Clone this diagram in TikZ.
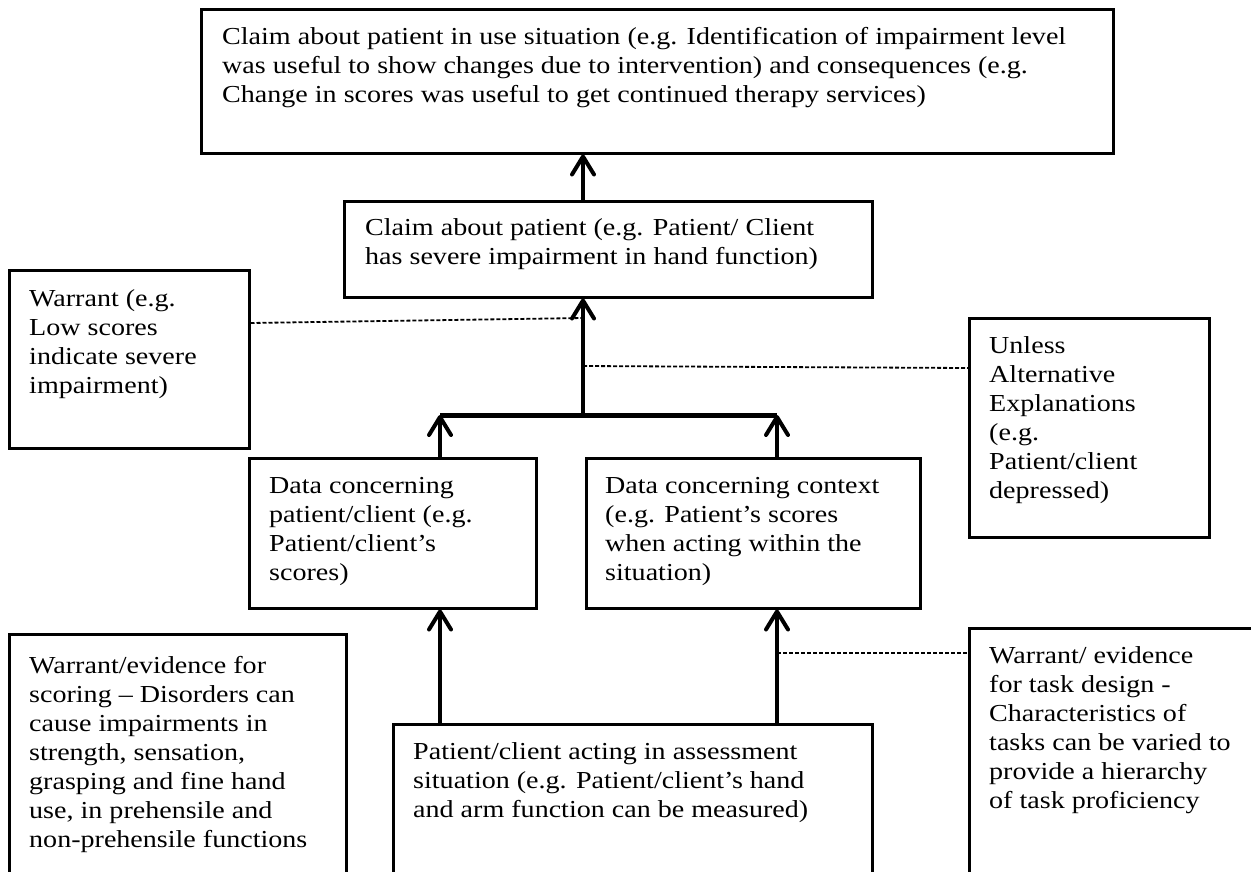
\documentclass[tikz,border=0pt]{standalone}
\usepackage{fontspec}
\setmainfont{Liberation Serif}[FakeStretch=1.15]
\usetikzlibrary{arrows.meta,calc}

% stacked lines whose reference point is the first baseline
\newcommand{\stacklines}[1]{\begin{tabular}[t]{@{}l@{}}#1\end{tabular}}

\tikzset{
  box/.style={draw, line width=2.5pt, inner sep=0pt, anchor=north west},
  txt/.style={anchor=base west, inner sep=0pt,
              font=\fontsize{24.4}{29}\selectfont},
  conn/.style={line width=4pt,
               -{Straight Barb[length=18pt,width=22pt,line cap=round,line join=round]}},
  bar/.style={line width=5pt},
  dashline/.style={line width=1.8pt, dash pattern=on 4pt off 2pt},
}

\begin{document}
\begin{tikzpicture}[x=1pt,y=-1pt]
\useasboundingbox (0,0) rectangle (1251,871);
\clip (0,0) rectangle (1251,871);

% boxes
\node[box, minimum width=912pt, minimum height=144pt] (top) at (200,8) {};
\node[box, minimum width=528pt, minimum height=96pt]  (claim) at (343,200) {};
\node[box, minimum width=240pt, minimum height=178pt] (warrant) at (8,269) {};
\node[box, minimum width=240pt, minimum height=219pt] (unless) at (968,317) {};
\node[box, minimum width=287pt, minimum height=150pt] (data1) at (248,457) {};
\node[box, minimum width=334pt, minimum height=150pt] (data2) at (585,457) {};
\node[box, minimum width=337pt, minimum height=250pt] (scoring) at (8,633) {};
\node[box, minimum width=479pt, minimum height=150pt] (patient) at (392,723) {};
\node[box, minimum width=300pt, minimum height=250pt] (design) at (968,627) {};

% texts
\node[txt] (ttop) at ($(top.north west)+(22,36)$)
  {\stacklines{Claim about patient in use situation (e.g. Identification of impairment level\\
   was useful to show changes due to intervention) and consequences (e.g.\\
   Change in scores was useful to get continued therapy services)}};
\node[txt] (tclaim) at ($(claim.north west)+(22,35)$)
  {\stacklines{Claim about patient (e.g. Patient/ Client\\
   has severe impairment in hand function)}};
\node[txt] (twarrant) at ($(warrant.north west)+(21,37)$)
  {\stacklines{Warrant (e.g.\\ Low scores\\ indicate severe\\ impairment)}};
\node[txt] (tunless) at ($(unless.north west)+(21,36)$)
  {\stacklines{Unless\\ Alternative\\ Explanations\\ (e.g.\\ Patient/client\\ depressed)}};
\node[txt] (tdata1) at ($(data1.north west)+(21,36)$)
  {\stacklines{Data concerning\\ patient/client (e.g.\\ Patient/client’s\\ scores)}};
\node[txt] (tdata2) at ($(data2.north west)+(20,36)$)
  {\stacklines{Data concerning context\\ (e.g. Patient’s scores\\ when acting within the\\ situation)}};
\node[txt] (tscoring) at ($(scoring.north west)+(21,40)$)
  {\stacklines{Warrant/evidence for\\ scoring – Disorders can\\ cause impairments in\\
   strength, sensation,\\ grasping and fine hand\\ use, in prehensile and\\
   non-prehensile functions}};
\node[txt] (tpatient) at ($(patient.north west)+(21,36)$)
  {\stacklines{Patient/client acting in assessment\\
   situation (e.g. Patient/client’s hand\\
   and arm function can be measured)}};
\node[txt] (tdesign) at ($(design.north west)+(21,36)$)
  {\stacklines{Warrant/ evidence\\ for task design -\\ Characteristics of\\
   tasks can be varied to\\ provide a hierarchy\\ of task proficiency}};

% junction points of the argument tree
\coordinate (j)  at (583,415);
\coordinate (bl) at (440,415);
\coordinate (br) at (777,415);
\coordinate (mw) at (583,318);
\coordinate (mu) at (583,366);
\coordinate (mr) at (777,653);

% connectors
\draw[conn] (j |- claim.north) -- (j |- top.south);
\draw[conn] (j) -- (j |- claim.south);
\draw[bar] (bl) -- (br);
\draw[conn] (bl |- data1.north) -- (bl);
\draw[conn] (br |- data2.north) -- (br);
\draw[conn] (bl |- patient.north) -- (bl |- data1.south);
\draw[conn] (br |- patient.north) -- (br |- data2.south);

% qualifiers
\draw[dashline] ($(warrant.north east)+(0,54)$) -- (mw);
\draw[dashline] (mu) -- ($(unless.north west)+(0,51)$);
\draw[dashline] (mr) -- ($(design.north west)+(0,26)$);
\end{tikzpicture}
\end{document}
